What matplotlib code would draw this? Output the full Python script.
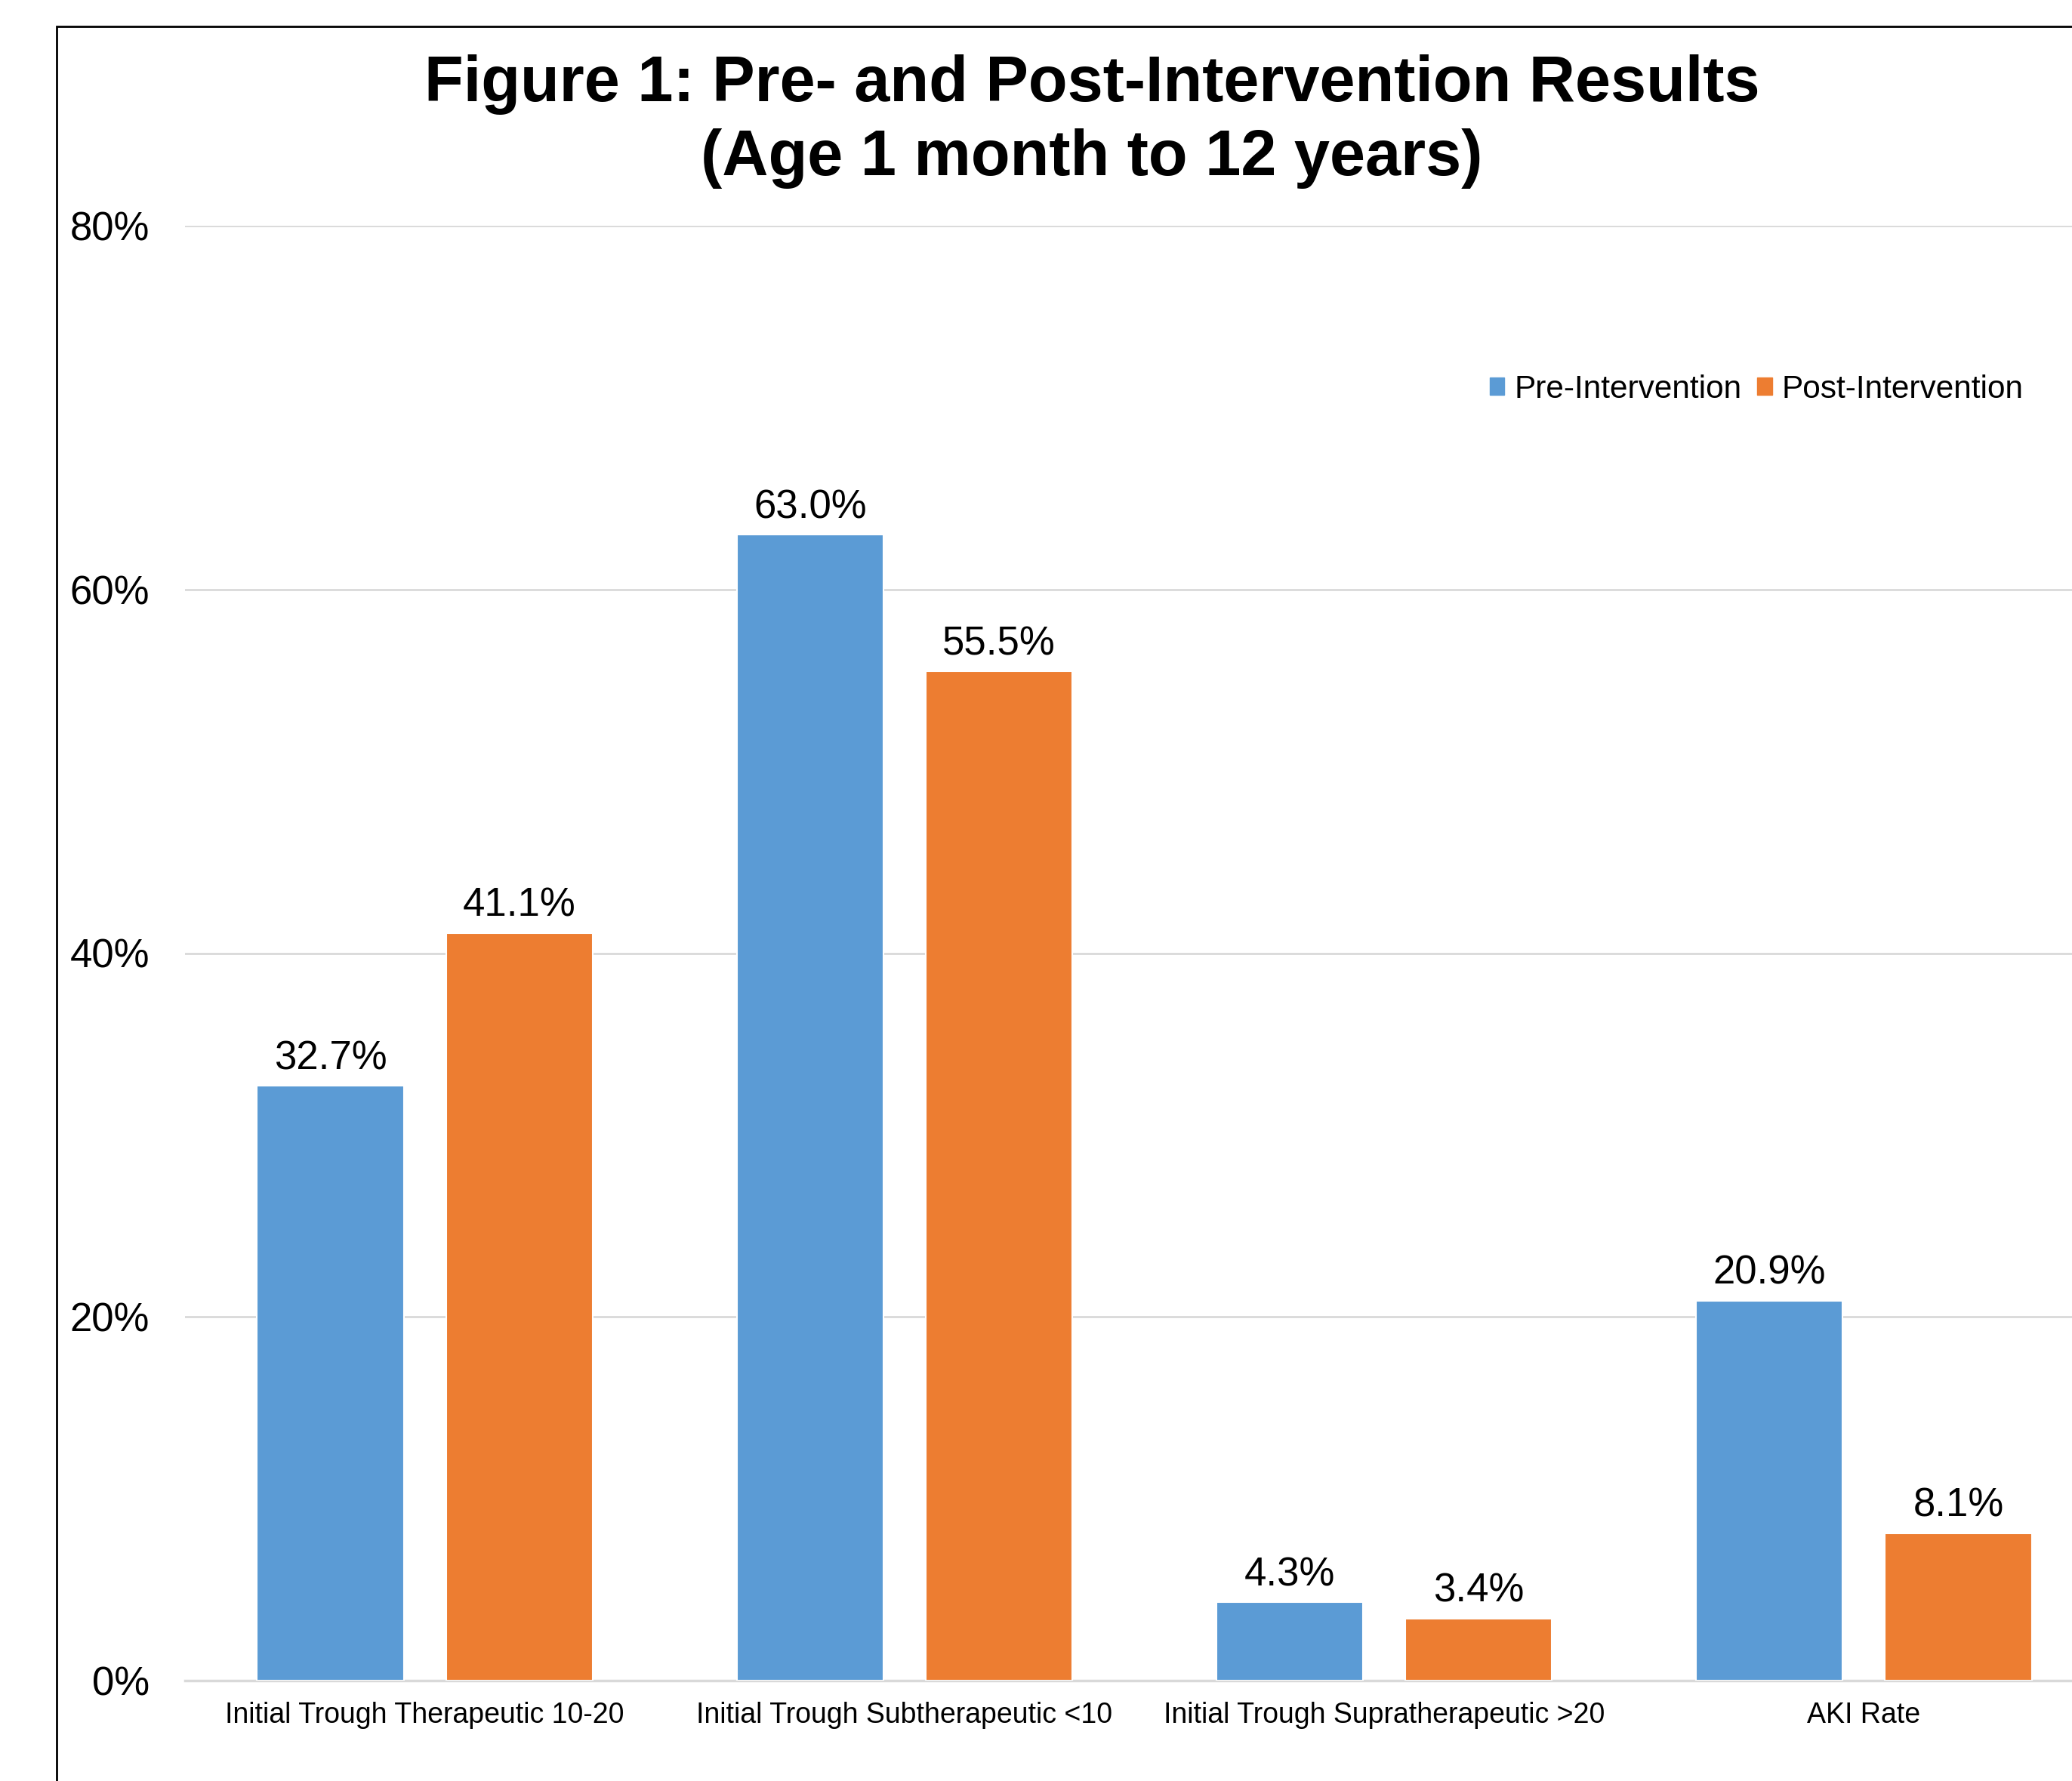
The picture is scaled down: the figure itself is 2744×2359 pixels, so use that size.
import matplotlib.pyplot as plt
from matplotlib.patches import Patch, Rectangle
import numpy as np

categories = ['Initial Trough Therapeutic 10-20', 'Initial Trough Subtherapeutic <10',
              'Initial Trough Supratherapeutic >20', 'AKI Rate']
pre = [32.7, 63.0, 4.3, 20.9]
post = [41.1, 55.5, 3.4, 8.1]
series_names = ['Pre-Intervention', 'Post-Intervention']
yticks = [0, 20, 40, 60, 80]

blue = '#5B9BD5'
orange = '#ED7D31'
grid_col = '#D9D9D9'

plt.rcParams['font.family'] = ['Liberation Sans', 'DejaVu Sans']

fig = plt.figure(figsize=(27.44, 23.59), dpi=100)
# axes run off the right edge like the source screenshot
ax = fig.add_axes([245/2744, 133/2359, 2541/2744, 1927/2359])

x = np.arange(len(categories))
w = 0.306
off = 0.197
b1 = ax.bar(x - off, pre, w, color=blue, zorder=3, edgecolor='white', linewidth=1.5)
b2 = ax.bar(x + off, post, w, color=orange, zorder=3, edgecolor='white', linewidth=1.5)

for bars in (b1, b2):
    for rect in bars:
        h = rect.get_height()
        ax.annotate('%.1f%%' % h, (rect.get_x() + rect.get_width()/2, h),
                    xytext=(0, 8), textcoords='offset points',
                    ha='center', va='bottom', fontsize=38)

ax.set_xlim(-0.5, len(categories) - 0.5)
ax.set_ylim(0, 80)
ax.set_yticks(yticks)
ax.set_yticklabels(['%d%%' % v for v in yticks], fontsize=38)
ax.set_xticks(x)
ax.set_xticklabels(categories, fontsize=27)
ax.tick_params(axis='both', length=0)
ax.tick_params(axis='y', pad=34)
ax.tick_params(axis='x', pad=20)

ax.grid(axis='y', color=grid_col, linewidth=2, zorder=0)
for s in ['top', 'right', 'left']:
    ax.spines[s].set_visible(False)
ax.spines['bottom'].set_color(grid_col)
ax.spines['bottom'].set_linewidth(2.5)

handles = [Patch(color=blue), Patch(color=orange)]
ax.legend(handles, series_names, loc='center right', bbox_to_anchor=(0.973, 71.0/80),
          ncol=2, frameon=False, fontsize=30.5, handlelength=0.45, handleheight=0.45,
          handletextpad=0.3, columnspacing=0.5)

fig.text(0.527, 1 - 112/2359, 'Figure 1: Pre- and Post-Intervention Results',
         ha='center', va='center', fontsize=61, fontweight='bold')
fig.text(0.527, 1 - 210/2359, '(Age 1 month to 12 years)',
         ha='center', va='center', fontsize=61, fontweight='bold')

# outer chart border (cut off at right and bottom)
fig.patches.append(Rectangle((75/2744, -0.1), 2, 1.1 - 35/2359, transform=fig.transFigure,
                             fill=False, edgecolor='black', linewidth=2))

fig.savefig('out.png', dpi=100)
